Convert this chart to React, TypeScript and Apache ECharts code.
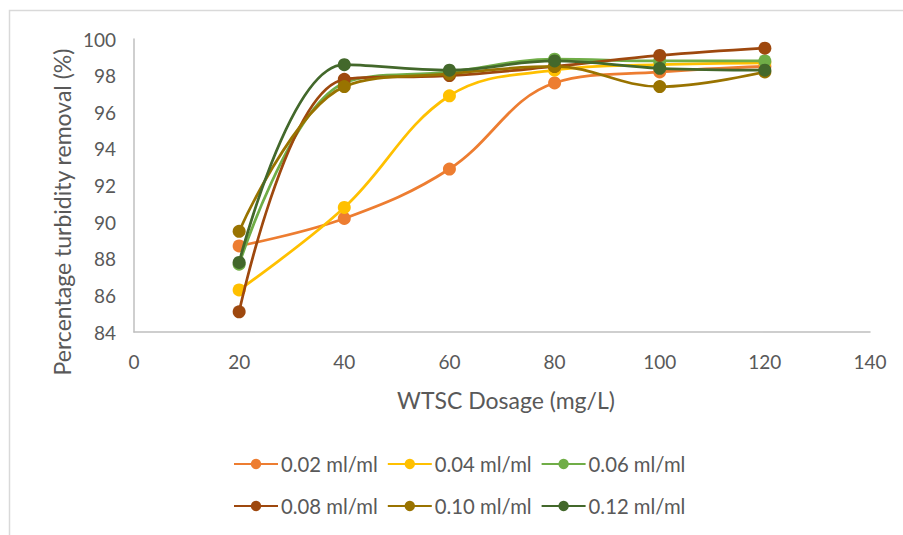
import React, { useEffect, useRef } from "react";
import * as echarts from "echarts";

const dosage = [20, 40, 60, 80, 100, 120];
const seriesNames = ["0.02 ml/ml", "0.04 ml/ml", "0.06 ml/ml", "0.08 ml/ml", "0.10 ml/ml", "0.12 ml/ml"];
const s002 = [88.7, 90.2, 92.9, 97.6, 98.2, 98.5];
const s004 = [86.3, 90.8, 96.9, 98.3, 98.6, 98.7];
const s006 = [87.7, 97.6, 98.2, 98.9, 98.8, 98.8];
const s008 = [85.1, 97.8, 98.0, 98.5, 99.1, 99.5];
const s010 = [89.5, 97.4, 98.1, 98.5, 97.4, 98.2];
const s012 = [87.8, 98.6, 98.3, 98.8, 98.4, 98.3];
const colors = ["#ED7D31", "#FFC000", "#70AD47", "#9E480E", "#997300", "#43682B"];
const allValues = [s002, s004, s006, s008, s010, s012];

const FONT = "Lato, 'Open Sans', sans-serif";
const GRAY = "#595959";

export default function App() {
  const ref = useRef<HTMLDivElement>(null);
  useEffect(() => {
    if (!ref.current) return;
    const chart = echarts.init(ref.current, null, { renderer: "svg" });
    const series = allValues.map((vals, i) => ({
      name: seriesNames[i],
      type: "line",
      data: vals.map((v, j) => [dosage[j], v]),
      smooth: 0.38,
      symbol: "circle",
      symbolSize: 13,
      lineStyle: { width: 2.75, color: colors[i] },
      itemStyle: { color: colors[i] },
      z: 2 + i,
    }));
    const legendCommon = {
      left: 228,
      orient: "horizontal",
      itemWidth: 44,
      itemHeight: 13,
      itemGap: 9,
      textStyle: { fontFamily: FONT, fontSize: 20.3, lineHeight: 20, color: GRAY, padding: [0, 0, 0, -2] },
    };
    chart.setOption({
      animation: false,
      backgroundColor: "#ffffff",
      textStyle: { fontFamily: FONT },
      grid: { left: 134, right: 33, top: 39, bottom: 203 },
      xAxis: {
        type: "value",
        min: 0,
        max: 140,
        interval: 20,
        axisLine: { show: true, lineStyle: { color: "#BFBFBF", width: 1.5 } },
        axisTick: { show: false },
        splitLine: { show: false },
        axisLabel: { color: GRAY, fontSize: 19, fontFamily: FONT, margin: 20 },
      },
      yAxis: {
        type: "value",
        min: 84,
        max: 100,
        interval: 2,
        axisLine: { show: true, lineStyle: { color: "#BFBFBF", width: 1.5 } },
        axisTick: { show: false },
        splitLine: { show: false },
        axisLabel: { color: GRAY, fontSize: 19, fontFamily: FONT, margin: 18 },
      },
      legend: [
        { ...legendCommon, top: 449, data: seriesNames.slice(0, 3) },
        { ...legendCommon, top: 491, data: seriesNames.slice(3, 6) },
      ],
      graphic: [
        {
          type: "rect",
          shape: { x: 9.5, y: 10.5, width: 1000, height: 1000 },
          style: { fill: "none", stroke: "#D9D9D9", lineWidth: 1.5 },
          silent: true,
        },
        {
          type: "text",
          x: 506,
          y: 400,
          style: {
            text: "WTSC Dosage (mg/L)",
            fontFamily: FONT,
            fontSize: 23,
            fill: GRAY,
            align: "center",
            verticalAlign: "middle",
          },
        },
        {
          type: "text",
          x: 62,
          y: 212,
          rotation: Math.PI / 2,
          style: {
            text: "Percentage turbidity removal (%)",
            fontFamily: FONT,
            fontSize: 23,
            fill: GRAY,
            align: "center",
            verticalAlign: "middle",
          },
        },
      ],
      series,
    });
    return () => chart.dispose();
  }, []);
  return (
    <div
      ref={ref}
      style={{ position: "fixed", left: 0, top: 0, width: 903, height: 535, background: "#fff" }}
    />
  );
}
